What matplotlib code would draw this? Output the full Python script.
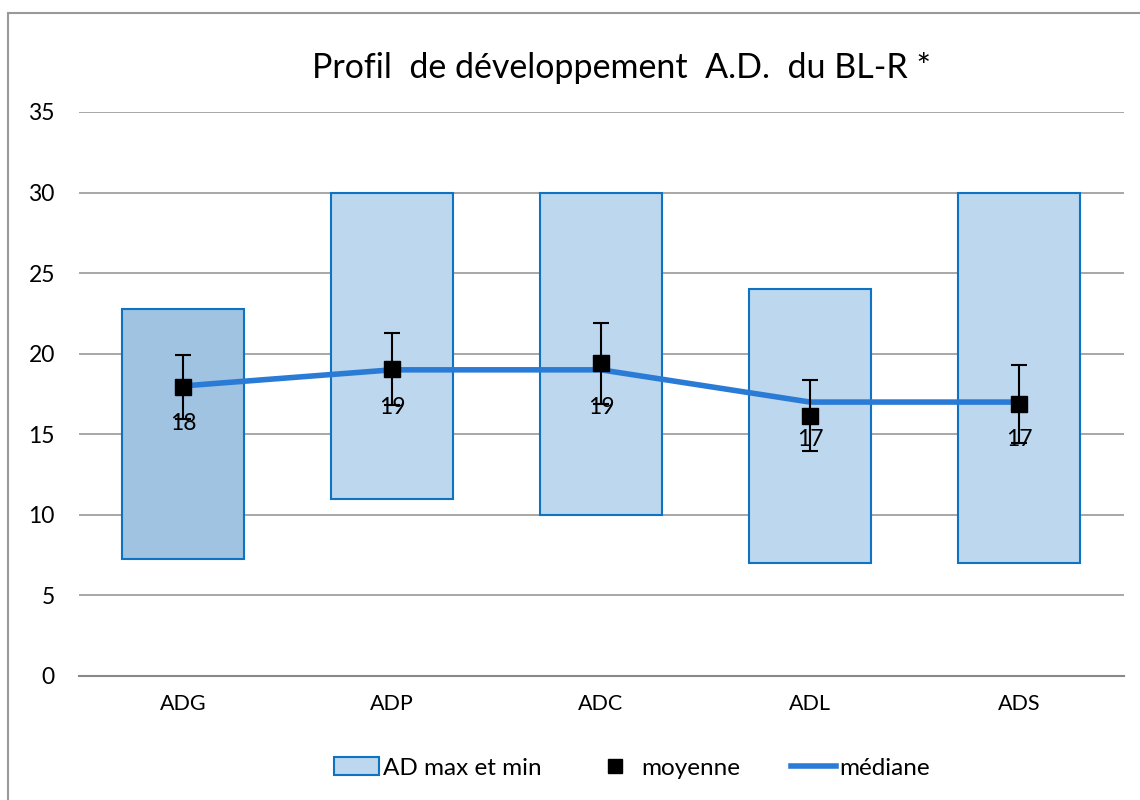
import matplotlib
matplotlib.use("Agg")
import matplotlib.pyplot as plt
from matplotlib.patches import Rectangle
from matplotlib.lines import Line2D
import numpy as np

categories = ["ADG", "ADP", "ADC", "ADL", "ADS"]
ad_min = [7.25, 11, 10, 7, 7]
ad_max = [22.75, 30, 30, 24, 30]
moyenne = [17.93, 19.05, 19.4, 16.15, 16.88]
ecart = [2.0, 2.25, 2.5, 2.2, 2.42]
mediane = [18, 19, 19, 17, 17]
median_labels = ["18", "19", "19", "17", "17"]
yticks = [0, 5, 10, 15, 20, 25, 30, 35]

plt.rcParams['font.family'] = ['Lato', 'DejaVu Sans']

fig = plt.figure(figsize=(11.4, 8.0), dpi=100)
ax = fig.add_axes([78.5 / 1140, 1 - 676 / 800, (1123.5 - 78.5) / 1140, (676 - 112) / 800])

x = np.arange(len(categories))
bar_colors = ["#9fc3e1"] + ["#bdd7ee"] * (len(categories) - 1)
heights = [mx - mn for mx, mn in zip(ad_max, ad_min)]
ax.bar(x, heights, bottom=ad_min, width=0.58, color=bar_colors,
       edgecolor="#0f73c4", linewidth=1.5, zorder=2)

ax.plot(x, mediane, color="#2a7bd5", linewidth=4, zorder=3, solid_capstyle="butt")

ax.errorbar(x, moyenne, yerr=ecart, fmt="s", color="black", markersize=11,
            ecolor="black", elinewidth=1.5, capsize=6, capthick=1.5, zorder=4)

for xi, m, lab in zip(x, mediane, median_labels):
    ax.annotate(lab, (xi, m), xytext=(0, -27), textcoords="offset points",
                ha="center", va="center", fontsize=16.5, color="black", zorder=5)

ax.set_xlim(-0.5, len(categories) - 0.5)
ax.set_ylim(0, 35)
ax.set_yticks(yticks)
ax.set_yticklabels([str(t) for t in yticks], fontsize=16.5)
ax.set_xticks(x)
ax.set_xticklabels(categories, fontsize=15.5)
ax.tick_params(axis="both", length=0)
ax.tick_params(axis="y", pad=17)
ax.tick_params(axis="x", pad=13)
for s in ["top", "right", "left"]:
    ax.spines[s].set_visible(False)
ax.spines["bottom"].set_color("#888888")
ax.spines["bottom"].set_linewidth(1.5)
ax.yaxis.grid(True, color="#a0a0a0", linewidth=1.3, zorder=0)
ax.set_axisbelow(True)

fig.text(621 / 1140, 1 - 68 / 800, "Profil  de développement  A.D.  du BL-R *",
         ha="center", va="center", fontsize=24.5)

handles = [
    Rectangle((0, 0), 1, 1, facecolor="#bdd7ee", edgecolor="#0f73c4", linewidth=1.5),
    Line2D([], [], marker="s", color="black", linestyle="none", markersize=10),
    Line2D([], [], color="#2a7bd5", linewidth=4),
]
fig.legend(handles, ["AD max et min", "moyenne", "médiane"], loc="center",
           bbox_to_anchor=(632 / 1140, 1 - 768 / 800), ncol=3, frameon=False,
           fontsize=17.5, handlelength=1.85, handletextpad=0.15, columnspacing=2.1)

fig.patches.append(Rectangle((8 / 1140, -0.1), 1.2, 1 - 13 / 800 + 0.1,
                             transform=fig.transFigure, fill=False,
                             edgecolor="#999999", linewidth=1.5))

fig.savefig("out.png", dpi=100)
